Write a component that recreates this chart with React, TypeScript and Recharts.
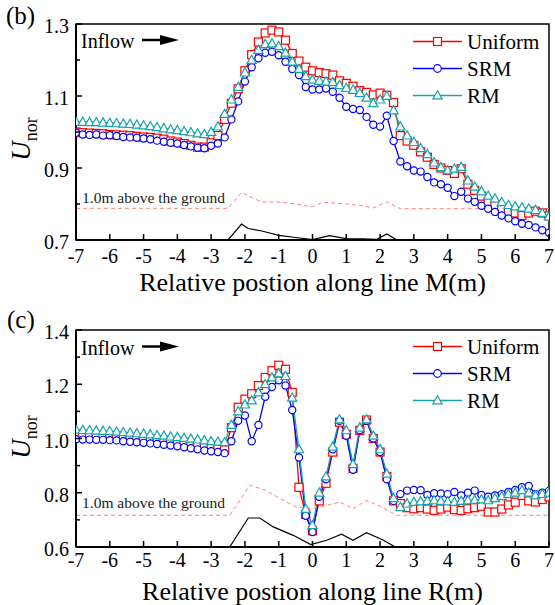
import React from 'react';
import { LineChart, Line, XAxis, YAxis, ReferenceArea } from 'recharts';

// ---------- data ----------
const X_POS = [
  -7, -6.8, -6.6, -6.4, -6.2, -6, -5.8, -5.6, -5.4, -5.2,
  -5, -4.8, -4.6, -4.4, -4.2, -4, -3.8, -3.6, -3.4, -3.2,
  -3, -2.8, -2.6, -2.4, -2.2, -2, -1.8, -1.6, -1.4, -1.2,
  -1, -0.8, -0.6, -0.4, -0.2, 0, 0.2, 0.4, 0.6, 0.8,
  1, 1.2, 1.4, 1.6, 1.8, 2, 2.2, 2.4, 2.6, 2.8,
  3, 3.2, 3.4, 3.6, 3.8, 4, 4.2, 4.4, 4.6, 4.8,
  5, 5.2, 5.4, 5.6, 5.8, 6, 6.2, 6.4, 6.6, 6.8,
  7,
];
const X_TICKS = [-7, -6, -5, -4, -3, -2, -1, 0, 1, 2, 3, 4, 5, 6, 7];

// Panel (b): line M
const M_UNIFORM = [
  1.000, 0.998, 0.997, 0.996, 0.995, 0.993, 0.992, 0.991, 0.990, 0.988,
  0.986, 0.985, 0.983, 0.980, 0.975, 0.972, 0.968, 0.963, 0.958, 0.958,
  0.970, 0.990, 1.035, 1.080, 1.120, 1.170, 1.215, 1.250, 1.275, 1.283,
  1.278, 1.255, 1.218, 1.197, 1.180, 1.170, 1.165, 1.162, 1.158, 1.142,
  1.135, 1.127, 1.115, 1.110, 1.103, 1.108, 1.102, 1.082, 0.990, 0.975,
  0.963, 0.945, 0.930, 0.910, 0.900, 0.893, 0.885, 0.898, 0.855, 0.838,
  0.822, 0.805, 0.795, 0.785, 0.778, 0.775, 0.768, 0.775, 0.780, 0.775,
  0.767,
];
const M_SRM = [
  0.998, 0.993, 0.992, 0.993, 0.990, 0.991, 0.989, 0.986, 0.985, 0.984,
  0.982, 0.980, 0.976, 0.973, 0.970, 0.968, 0.964, 0.960, 0.956, 0.955,
  0.962, 0.968, 0.985, 1.035, 1.085, 1.140, 1.180, 1.205, 1.220, 1.223,
  1.213, 1.195, 1.175, 1.158, 1.125, 1.118, 1.118, 1.121, 1.112, 1.095,
  1.070, 1.064, 1.061, 1.042, 1.020, 1.015, 1.045, 0.975, 0.918, 0.905,
  0.893, 0.890, 0.875, 0.860, 0.855, 0.845, 0.822, 0.834, 0.815, 0.806,
  0.795, 0.787, 0.778, 0.768, 0.760, 0.752, 0.745, 0.742, 0.735, 0.727,
  0.720,
];
const M_RM = [
  1.028, 1.028, 1.027, 1.027, 1.026, 1.025, 1.024, 1.023, 1.022, 1.020,
  1.018, 1.016, 1.013, 1.010, 1.007, 1.005, 1.002, 0.999, 0.996, 0.994,
  1.000, 1.015, 1.050, 1.090, 1.125, 1.165, 1.200, 1.228, 1.244, 1.246,
  1.238, 1.220, 1.195, 1.175, 1.155, 1.145, 1.142, 1.140, 1.138, 1.130,
  1.122, 1.117, 1.108, 1.095, 1.080, 1.090, 1.100, 1.060, 1.015, 0.990,
  0.972, 0.955, 0.938, 0.915, 0.902, 0.893, 0.898, 0.903, 0.865, 0.848,
  0.835, 0.823, 0.815, 0.805, 0.797, 0.793, 0.790, 0.787, 0.783, 0.775,
  0.765,
];
const M_DASH_X = [-7, -2.5, -2.1, -1.5, -1.0, -0.5, 0, 0.3, 0.6, 1.0, 1.5, 1.8, 2.2, 2.6, 7];
const M_DASH_V = [0.788, 0.788, 0.832, 0.805, 0.806, 0.800, 0.792, 0.805, 0.803, 0.800, 0.795, 0.789, 0.806, 0.787, 0.787];
const M_GROUND_X = [-2.5, -2.1, -1.9, -1.5, -1.0, -0.5, 0, 0.5, 1.0, 1.5, 1.9, 2.2, 2.5];
const M_GROUND_V = [0.7, 0.744, 0.732, 0.725, 0.713, 0.707, 0.701, 0.712, 0.704, 0.703, 0.702, 0.717, 0.7];

// Panel (c): line R
const R_UNIFORM = [
  1.008, 1.007, 1.006, 1.005, 1.005, 1.004, 1.002, 1.000, 0.998, 0.996,
  0.994, 0.992, 0.990, 0.988, 0.985, 0.983, 0.980, 0.976, 0.972, 0.968,
  0.964, 0.961, 0.958, 1.040, 1.115, 1.145, 1.165, 1.195, 1.225, 1.250,
  1.270, 1.255, 1.170, 0.820, 0.720, 0.660, 0.770, 0.835, 0.950, 1.060,
  1.015, 0.890, 1.030, 1.068, 1.000, 0.950, 0.860, 0.770, 0.760, 0.745,
  0.741, 0.745, 0.740, 0.735, 0.740, 0.747, 0.738, 0.735, 0.741, 0.745,
  0.750, 0.729, 0.729, 0.740, 0.755, 0.765, 0.790, 0.770, 0.766, 0.775,
  0.785,
];
const R_SRM = [
  0.997, 0.996, 0.996, 0.995, 0.995, 0.994, 0.993, 0.990, 0.988, 0.986,
  0.984, 0.982, 0.980, 0.977, 0.974, 0.971, 0.968, 0.964, 0.960, 0.956,
  0.953, 0.950, 0.946, 0.990, 1.065, 1.085, 0.990, 1.050, 1.154, 1.190,
  1.215, 1.195, 1.105, 0.930, 0.715, 0.655, 0.785, 0.850, 0.960, 1.065,
  1.010, 0.885, 1.030, 1.065, 1.000, 0.950, 0.850, 0.770, 0.795, 0.808,
  0.810, 0.809, 0.792, 0.798, 0.797, 0.795, 0.803, 0.790, 0.800, 0.808,
  0.792, 0.785, 0.790, 0.795, 0.803, 0.810, 0.820, 0.825, 0.795, 0.800,
  0.807,
];
const R_RM = [
  1.032, 1.031, 1.030, 1.029, 1.028, 1.027, 1.025, 1.023, 1.021, 1.019,
  1.017, 1.015, 1.012, 1.010, 1.007, 1.005, 1.002, 0.999, 0.996, 0.993,
  0.990, 0.988, 0.986, 1.050, 1.100, 1.125, 1.140, 1.170, 1.200, 1.225,
  1.240, 1.230, 1.150, 0.960, 0.740, 0.680, 0.800, 0.860, 0.970, 1.070,
  1.030, 0.905, 1.040, 1.070, 1.010, 0.960, 0.870, 0.780, 0.747, 0.760,
  0.766, 0.768, 0.770, 0.772, 0.770, 0.768, 0.766, 0.770, 0.772, 0.773,
  0.775, 0.772, 0.780, 0.787, 0.795, 0.800, 0.809, 0.800, 0.790, 0.795,
  0.800,
];
const R_DASH_X = [-7, -2.45, -1.85, -1.4, -0.96, -0.47, 0, 0.22, 0.81, 1.2, 1.6, 2.0, 2.5, 7];
const R_DASH_V = [0.717, 0.717, 0.828, 0.810, 0.778, 0.747, 0.741, 0.747, 0.766, 0.741, 0.772, 0.750, 0.717, 0.717];
const R_GROUND_X = [-2.45, -1.9, -1.56, -1.16, -0.57, -0.05, 0.42, 0.86, 1.2, 1.6, 2.1, 2.45];
const R_GROUND_V = [0.6, 0.707, 0.707, 0.674, 0.643, 0.609, 0.625, 0.647, 0.625, 0.653, 0.625, 0.6];

const M_Y_TICKS = [0.7, 0.8, 0.9, 1.0, 1.1, 1.2, 1.3];
const R_Y_TICKS = [0.6, 0.7, 0.8, 0.9, 1.0, 1.1, 1.2, 1.3, 1.4];

const SERIES_NAMES = ['Uniform', 'SRM', 'RM'];

// ---------- style ----------
const FONT = '"Liberation Serif", "Times New Roman", Times, serif';
const RED = '#ff0000';
const BLUE = '#0000ff';
const CYAN = '#17a3ad';
const DASH = '#ff8080';
const PLOT_LEFT = 76;

const squareDot = (color: string) => (p: any) => {
  const { cx, cy, index } = p;
  if (cx == null || cy == null) return <g key={index} />;
  return <rect key={index} x={cx - 4} y={cy - 4} width={8} height={8} fill="#fff" stroke={color} strokeWidth={1.2} />;
};
const circleDot = (color: string) => (p: any) => {
  const { cx, cy, index } = p;
  if (cx == null || cy == null) return <g key={index} />;
  return <circle key={index} cx={cx} cy={cy} r={3.6} fill="#fff" stroke={color} strokeWidth={1.2} />;
};
const triDot = (color: string) => (p: any) => {
  const { cx, cy, index } = p;
  if (cx == null || cy == null) return <g key={index} />;
  return (
    <polygon key={index} points={`${cx},${cy - 4.8} ${cx - 4.6},${cy + 3.4} ${cx + 4.6},${cy + 3.4}`}
      fill="#fff" stroke={color} strokeWidth={1.2} />
  );
};

type PanelProps = {
  height: number; mTop: number; mBottom: number; plotBottom: number; xLabelDy: number;
  yDomain: [number, number]; yTicks: number[]; major: (v: number) => boolean;
  uni: number[]; srm: number[]; rm: number[];
  dashX: number[]; dashV: number[]; groundX: number[]; groundV: number[];
};

function Panel(props: PanelProps) {
  const { height, mTop, mBottom, plotBottom, xLabelDy, yDomain, yTicks, major, uni, srm, rm, dashX, dashV, groundX, groundV } = props;
  const rows = X_POS.map((x, i) => ({ x, uni: uni[i], srm: srm[i], rm: rm[i] }));
  const dash = dashX.map((x, i) => ({ x, v: dashV[i] }));
  const ground = groundX.map((x, i) => ({ x, g: groundV[i] }));

  const yTick = (p: any) => {
    const v = p.payload.value as number;
    const isMaj = major(v);
    return (
      <g>
        <line x1={PLOT_LEFT} x2={PLOT_LEFT + (isMaj ? 6 : 4)} y1={p.y} y2={p.y} stroke="#000" strokeWidth={1.5} />
        {isMaj && (
          <text x={PLOT_LEFT - 7} y={p.y} dy={9} textAnchor="end" fontSize={20} fontFamily={FONT} fill="#000">
            {v.toFixed(1)}
          </text>
        )}
      </g>
    );
  };
  const xTick = (p: any) => {
    const v = p.payload.value as number;
    return (
      <g>
        <line x1={p.x} x2={p.x} y1={plotBottom} y2={plotBottom - 6} stroke="#000" strokeWidth={1.5} />
        <text x={p.x} y={plotBottom + xLabelDy} textAnchor="middle" fontSize={20} fontFamily={FONT} fill="#000">
          {String(v)}
        </text>
      </g>
    );
  };

  return (
    <LineChart width={555} height={height} data={rows} margin={{ top: mTop, right: 6, left: 16, bottom: mBottom }}>
      <XAxis dataKey="x" type="number" domain={[-7, 7]} ticks={X_TICKS} interval={0} allowDataOverflow
        height={30} axisLine={{ stroke: '#000', strokeWidth: 2 }} tickLine={false} tick={xTick} />
      <YAxis type="number" domain={yDomain} ticks={yTicks} interval={0} allowDataOverflow
        width={60} axisLine={{ stroke: '#000', strokeWidth: 2 }} tickLine={false} tick={yTick} />
      <ReferenceArea x1={-7} x2={7} y1={yDomain[0]} y2={yDomain[1]} fill="none" fillOpacity={0}
        stroke="#000" strokeWidth={1.5} ifOverflow="visible" />
      <Line data={dash} dataKey="v" type="linear" stroke={DASH} strokeWidth={1} strokeDasharray="4 3"
        dot={false} activeDot={false} isAnimationActive={false} />
      <Line data={ground} dataKey="g" type="linear" stroke="#000" strokeWidth={1.2}
        dot={false} activeDot={false} isAnimationActive={false} />
      <Line dataKey="uni" name={SERIES_NAMES[0]} type="linear" stroke={RED} strokeWidth={1.3}
        dot={squareDot(RED)} activeDot={false} isAnimationActive={false} />
      <Line dataKey="srm" name={SERIES_NAMES[1]} type="linear" stroke={BLUE} strokeWidth={1.3}
        dot={circleDot(BLUE)} activeDot={false} isAnimationActive={false} />
      <Line dataKey="rm" name={SERIES_NAMES[2]} type="linear" stroke={CYAN} strokeWidth={1.3}
        dot={triDot(CYAN)} activeDot={false} isAnimationActive={false} />
    </LineChart>
  );
}

function Legend({ top }: { top: number }) {
  const colors = [RED, BLUE, CYAN];
  return (
    <g>
      {SERIES_NAMES.map((name, i) => {
        const y = top + i * 27;
        const cx = 437.5;
        const c = colors[i];
        return (
          <g key={name}>
            <line x1={413} x2={462} y1={y} y2={y} stroke={c} strokeWidth={1.5} />
            {i === 0 && <rect x={cx - 4} y={y - 4} width={8} height={8} fill="#fff" stroke={c} strokeWidth={1.2} />}
            {i === 1 && <circle cx={cx} cy={y} r={3.8} fill="#fff" stroke={c} strokeWidth={1.2} />}
            {i === 2 && <polygon points={`${cx},${y - 4.8} ${cx - 4.6},${y + 3.4} ${cx + 4.6},${y + 3.4}`} fill="#fff" stroke={c} strokeWidth={1.2} />}
            <text x={467} y={y + 7} fontSize={21} fontFamily={FONT} fill="#000">{name}</text>
          </g>
        );
      })}
    </g>
  );
}

function Inflow({ y }: { y: number }) {
  return (
    <g>
      <text x={81} y={y + 8} fontSize={20} fontFamily={FONT} fill="#000">Inflow</text>
      <line x1={142} x2={162} y1={y} y2={y} stroke="#000" strokeWidth={2.5} />
      <polygon points={`160,${y - 5} 179,${y} 160,${y + 5}`} fill="#000" />
    </g>
  );
}

function YTitle({ cx, cy }: { cx: number; cy: number }) {
  return (
    <text transform={`translate(${cx},${cy}) rotate(-90)`} textAnchor="middle" fontFamily={FONT} fill="#000">
      <tspan fontSize={27} fontStyle="italic">U</tspan>
      <tspan fontSize={18} dy={7}>nor</tspan>
    </text>
  );
}

export default function App() {
  return (
    <div style={{ position: 'absolute', left: 0, top: 0, width: 555, height: 605, background: '#fff', overflow: 'hidden' }}>
      <div style={{ position: 'absolute', left: 0, top: 0 }}>
        <Panel height={300} mTop={24} mBottom={30} plotBottom={240} xLabelDy={23}
          yDomain={[0.7, 1.3]} yTicks={M_Y_TICKS} major={(v) => Math.round(v * 10) % 2 === 1}
          uni={M_UNIFORM} srm={M_SRM} rm={M_RM}
          dashX={M_DASH_X} dashV={M_DASH_V} groundX={M_GROUND_X} groundV={M_GROUND_V} />
      </div>
      <div style={{ position: 'absolute', left: 0, top: 300 }}>
        <Panel height={305} mTop={30} mBottom={28} plotBottom={247} xLabelDy={20}
          yDomain={[0.6, 1.4]} yTicks={R_Y_TICKS} major={(v) => Math.round(v * 10) % 2 === 0}
          uni={R_UNIFORM} srm={R_SRM} rm={R_RM}
          dashX={R_DASH_X} dashV={R_DASH_V} groundX={R_GROUND_X} groundV={R_GROUND_V} />
      </div>
      <svg width={555} height={605} style={{ position: 'absolute', left: 0, top: 0, pointerEvents: 'none' }}>
        <text x={6} y={24} fontSize={25} fontFamily={FONT} fill="#000">(b)</text>
        <text x={7} y={328} fontSize={25} fontFamily={FONT} fill="#000">(c)</text>
        <Inflow y={40} />
        <Inflow y={346.5} />
        <Legend top={41.5} />
        <Legend top={346.5} />
        <text x={82} y={202.5} fontSize={15.5} fontFamily={FONT} fill="#222">1.0m above the ground</text>
        <text x={82} y={507.5} fontSize={15.5} fontFamily={FONT} fill="#222">1.0m above the ground</text>
        <YTitle cx={30} cy={139} />
        <YTitle cx={30} cy={437} />
        <text x={312.5} y={291} textAnchor="middle" fontSize={26} fontFamily={FONT} fill="#000">Relative postion along line M(m)</text>
        <text x={312.5} y={600} textAnchor="middle" fontSize={26} fontFamily={FONT} fill="#000">Relative postion along line R(m)</text>
      </svg>
    </div>
  );
}
